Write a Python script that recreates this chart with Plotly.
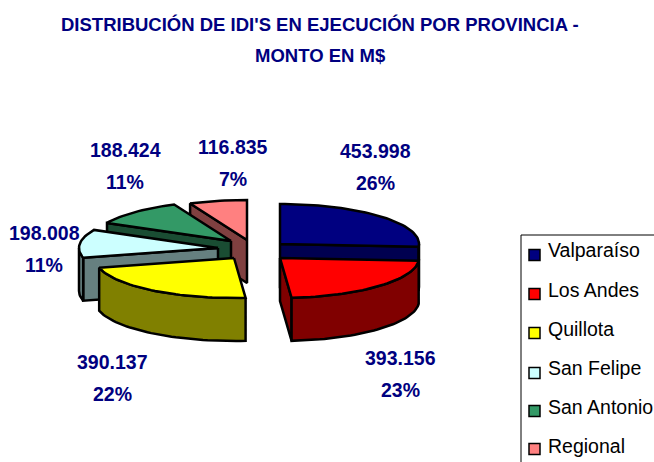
import math
import plotly.graph_objects as go

# ---- data ----
categories = ["Valparaíso", "Los Andes", "Quillota", "San Felipe", "San Antonio", "Regional"]
values = [453998, 393156, 390137, 198008, 188424, 116835]
top_colors = ["#000080", "#FF0000", "#FFFF00", "#CCFFFF", "#339966", "#FF8080"]
wall_colors = ["#000050", "#800000", "#808000", "#668080", "#1A4D33", "#804040"]

# ---- layout of the exploded pie (pixels) ----
centers = [(280, 244), (280, 258), (234, 258), (218, 248), (231, 241), (247, 240)]
RX, RY, DEPTH = 139, 40, 43
draw_order = [0, 1, 5, 4, 3, 2]
label_pos = [(375, 151), (400, 358), (112, 362), (44, 233), (125, 150), (233, 147)]
LINE_GAP = 32
legend_text_y = [252, 292, 331, 370, 409, 448]
legend_swatch_y = [255, 294, 333, 373, 411, 449]
SWATCH_X, TEXT_X = 534.5, 548

total = sum(values)
bounds = [0.0]
for v in values:
    bounds.append(bounds[-1] + 360.0 * v / total)


def pt(c, deg, dy=0.0):
    a = math.radians(deg)
    return c[0] + RX * math.sin(a), c[1] - RY * math.cos(a) + dy


def arc(c, a0, a1, dy=0.0):
    n = max(2, int(abs(a1 - a0) / 2) + 2)
    return [pt(c, a0 + (a1 - a0) * i / (n - 1), dy) for i in range(n)]


def poly(points, color):
    xs = [p[0] for p in points] + [points[0][0]]
    ys = [p[1] for p in points] + [points[0][1]]
    return go.Scatter(x=xs, y=ys, mode="lines", fill="toself", fillcolor=color,
                      line=dict(color="black", width=2.5), hoverinfo="skip", showlegend=False)


def fmt(v):
    return f"{v:,}".replace(",", ".")


fig = go.Figure()
for i in draw_order:
    c, a0, a1 = centers[i], bounds[i], bounds[i + 1]
    wall = wall_colors[i]
    c_low = (c[0], c[1] + DEPTH)
    # cut face at the start of the slice
    if math.sin(math.radians(a0)) < -1e-6:
        p = pt(c, a0)
        fig.add_trace(poly([c, p, (p[0], p[1] + DEPTH), c_low], wall))
    # cut face at the end of the slice
    if math.sin(math.radians(a1)) > 1e-6:
        p = pt(c, a1)
        fig.add_trace(poly([c, p, (p[0], p[1] + DEPTH), c_low], wall))
    # outer rim, front half only
    r0, r1 = max(a0, 90.0), min(a1, 270.0)
    if r1 > r0:
        fig.add_trace(poly(arc(c, r0, r1) + arc(c, r1, r0, DEPTH), wall))
    # top of the slice
    fig.add_trace(poly([c] + arc(c, a0, a1), top_colors[i]))

# legend frame
fig.add_shape(type="rect", x0=521, x1=670, y0=235, y1=480,
              line=dict(color="black", width=1), fillcolor="white", layer="below")
fig.add_trace(go.Scatter(
    x=[SWATCH_X] * len(categories), y=legend_swatch_y, mode="markers",
    marker=dict(symbol="square", size=11, color=top_colors, line=dict(color="black", width=1.5)),
    hoverinfo="skip", showlegend=False, cliponaxis=False))
fig.add_trace(go.Scatter(
    x=[TEXT_X] * len(categories), y=legend_text_y, mode="text",
    text=categories, textposition="middle right",
    textfont=dict(family="Liberation Sans", size=19.5, color="black"),
    hoverinfo="skip", showlegend=False, cliponaxis=False))

navy = "#000080"
for i, (x, y) in enumerate(label_pos):
    for k, txt in enumerate([fmt(values[i]), f"{round(100 * values[i] / total)}%"]):
        fig.add_annotation(x=x, y=y + k * LINE_GAP, text=f"<b>{txt}</b>", showarrow=False,
                           xanchor="center", yanchor="middle",
                           font=dict(family="Liberation Sans", size=19.5, color=navy))

for txt, y in [("DISTRIBUCIÓN DE IDI'S EN EJECUCIÓN POR PROVINCIA -", 24), ("MONTO EN M$", 55)]:
    fig.add_annotation(x=320, y=y, text=f"<b>{txt}</b>", showarrow=False,
                       xanchor="center", yanchor="middle",
                       font=dict(family="Liberation Sans", size=18.5, color=navy))

fig.update_layout(
    width=654, height=462, margin=dict(l=0, r=0, t=0, b=0),
    paper_bgcolor="white", plot_bgcolor="white", showlegend=False,
    xaxis=dict(range=[0, 654], visible=False, fixedrange=True),
    yaxis=dict(range=[462, 0], visible=False, fixedrange=True),
)
fig.write_html("out.html", config={"displayModeBar": False},
               post_script="document.body.style.margin='0';document.body.style.overflow='hidden';")
